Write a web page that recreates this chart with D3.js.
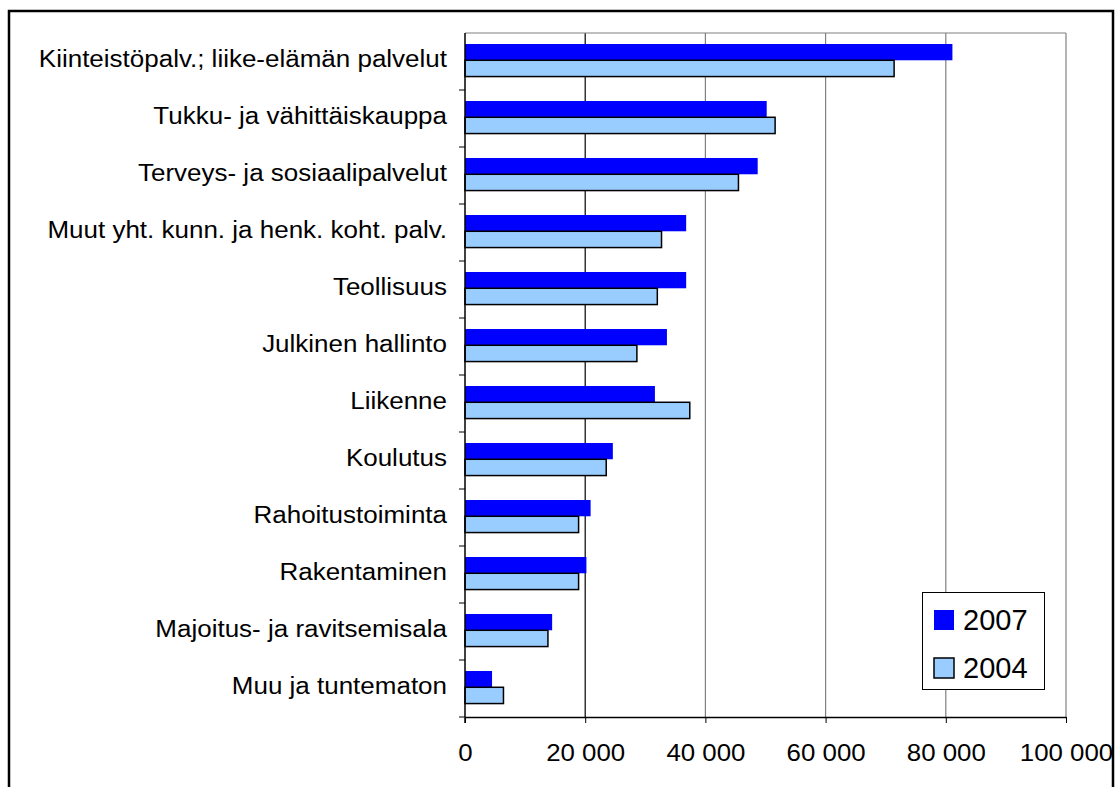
<!DOCTYPE html>
<html>
<head>
<meta charset="utf-8">
<script src="https://cdn.jsdelivr.net/npm/d3@7"></script>
<style>
  body { margin: 0; background: #fff; }
  svg { display: block; font-family: "Liberation Sans", Arial, sans-serif; }
</style>
</head>
<body>
<svg id="chart" width="1118" height="787"></svg>
<script>
const categories = [
  'Kiinteistöpalv.; liike-elämän palvelut',
  'Tukku- ja vähittäiskauppa',
  'Terveys- ja sosiaalipalvelut',
  'Muut yht. kunn. ja henk. koht. palv.',
  'Teollisuus',
  'Julkinen hallinto',
  'Liikenne',
  'Koulutus',
  'Rahoitustoiminta',
  'Rakentaminen',
  'Majoitus- ja ravitsemisala',
  'Muu ja tuntematon'
]
const values2007 = [81100, 50200, 48700, 36800, 36800, 33600, 31600, 24600, 20900, 20200, 14500, 4500]
const values2004 = [71400, 51600, 45500, 32700, 32000, 28600, 37400, 23500, 18900, 18900, 13800, 6400]
const xTicks = [0, 20000, 40000, 60000, 80000, 100000]
const seriesNames = ['2007', '2004']

const svg = d3.select('#chart')
const plotL = 465, plotR = 1066, plotT = 33, plotB = 717

const x = d3.scaleLinear().domain([0, 100000]).range([plotL, plotR])
const y = d3.scaleBand().domain(categories).range([plotT, plotB])
const inner = d3.scaleBand().domain(seriesNames).range([0, y.bandwidth()])
  .paddingInner(0).paddingOuter(0.75).align(0.45)

const fmt = v => d3.format(',')(v).replace(/,/g, ' ')

// gridlines
svg.append('g').selectAll('line').data(xTicks.slice(1)).join('line')
  .attr('x1', d => x(d)).attr('x2', d => x(d)).attr('y1', plotT).attr('y2', plotB)
  .attr('stroke', d => d === 20000 ? '#000' : '#808080').attr('stroke-width', 1.2)

// plot frame top
svg.append('line').attr('x1', plotL).attr('x2', plotR).attr('y1', plotT).attr('y2', plotT)
  .attr('stroke', '#808080').attr('stroke-width', 1.2)

// bars
const groups = svg.append('g').selectAll('g').data(categories).join('g')
  .attr('transform', d => `translate(0,${y(d)})`)

groups.append('rect')
  .attr('x', plotL).attr('y', inner('2007'))
  .attr('width', (d, i) => x(values2007[i]) - plotL).attr('height', inner.bandwidth())
  .attr('fill', '#0000FF')

groups.append('rect')
  .attr('x', plotL).attr('y', inner('2004'))
  .attr('width', (d, i) => x(values2004[i]) - plotL).attr('height', inner.bandwidth())
  .attr('fill', '#99CCFF').attr('stroke', '#000').attr('stroke-width', 1.5)

// x axis
const xAxis = svg.append('g').attr('transform', `translate(0,${plotB})`)
  .call(d3.axisBottom(x).tickValues(xTicks).tickFormat(fmt).tickSize(6).tickSizeOuter(0))
xAxis.select('.domain').attr('stroke', '#000').attr('stroke-width', 1.5)
xAxis.selectAll('.tick line').attr('stroke', '#000')
xAxis.selectAll('.tick text').attr('font-size', 23.5).attr('dy', 0).attr('y', 0)
  .attr('transform', 'translate(0,44) scale(1.1,1)')
  .attr('fill', '#000').attr('font-family', '"Liberation Sans", Arial, sans-serif')

// y axis: ticks at band boundaries
const yAxis = svg.append('g')
yAxis.append('line').attr('x1', plotL).attr('x2', plotL).attr('y1', plotT).attr('y2', plotB + 6)
  .attr('stroke', '#000').attr('stroke-width', 1.5)
yAxis.selectAll('.bt').data(categories).join('line')
  .attr('x1', plotL - 6).attr('x2', plotL)
  .attr('y1', d => y(d) + y.step()).attr('y2', d => y(d) + y.step())
  .attr('stroke', '#000')
yAxis.selectAll('text').data(categories).join('text')
  .attr('transform', d => `translate(447,${y(d) + y.bandwidth() / 2 + 5.5}) scale(1.13,1)`)
  .attr('text-anchor', 'end').attr('font-size', 23).attr('fill', '#000')
  .text(d => d)

// legend
const legend = svg.append('g')
legend.append('rect').attr('x', 922.5).attr('y', 592.5).attr('width', 122).attr('height', 97)
  .attr('fill', '#fff').attr('stroke', '#000').attr('stroke-width', 1)
const legColor = {'2007': '#0000FF', '2004': '#99CCFF'}
const legItems = legend.selectAll('.li').data(seriesNames).join('g')
  .attr('transform', (d, i) => `translate(934,${610 + i * 48})`)
legItems.append('rect').attr('width', 20).attr('height', 20)
  .attr('fill', d => legColor[d])
  .attr('stroke', d => d === '2004' ? '#000' : 'none').attr('stroke-width', 1.5)
legItems.append('text').attr('x', 29).attr('y', 20)
  .attr('font-size', 29).attr('fill', '#000').text(d => d)

// outer frame
svg.append('rect').attr('x', 9).attr('y', 11).attr('width', 1104).attr('height', 800)
  .attr('fill', 'none').attr('stroke', '#000').attr('stroke-width', 2.5)
</script>
</body>
</html>
